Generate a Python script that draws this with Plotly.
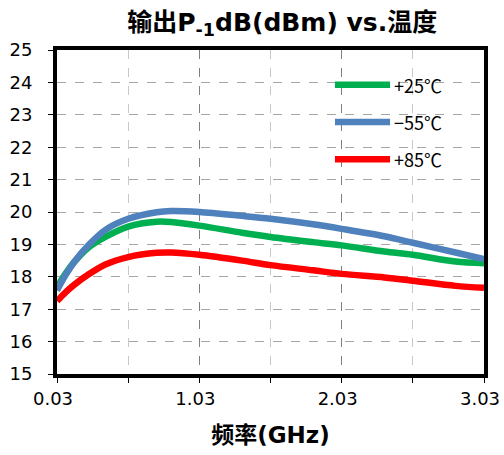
import plotly.graph_objects as go

# Frequency sweep (GHz) and output P-1dB (dBm) at three temperatures
freq = [0.03, 0.09, 0.15, 0.25, 0.37, 0.53, 0.73, 0.83, 1.03, 1.33, 1.53, 1.83, 2.03, 2.33, 2.53, 2.83, 3.03]
p1db_p25 = [17.68, 18.10, 18.45, 18.90, 19.23, 19.55, 19.70, 19.69, 19.58, 19.36, 19.23, 19.07, 18.97, 18.78, 18.68, 18.47, 18.42]
p1db_m55 = [17.58, 18.05, 18.45, 18.97, 19.45, 19.79, 19.99, 20.03, 20.00, 19.88, 19.79, 19.62, 19.48, 19.25, 19.05, 18.75, 18.55]
p1db_p85 = [17.25, 17.52, 17.75, 18.07, 18.38, 18.61, 18.74, 18.75, 18.68, 18.50, 18.36, 18.20, 18.09, 17.98, 17.88, 17.72, 17.66]

series_names = ["+25℃", "−55℃", "+85℃"]
series_colors = ["#00B050", "#4F81BD", "#FF0000"]
series_values = [p1db_p25, p1db_m55, p1db_p85]

x_ticks = [0.03, 1.03, 2.03, 3.03]
x_tick_text = ["0.03", "1.03", "2.03", "3.03"]

fig = go.Figure()
for name, color, vals in zip(series_names, series_colors, series_values):
    fig.add_trace(go.Scatter(
        x=freq, y=vals, name=name, mode="lines",
        line=dict(color=color, width=6.5, shape="spline", smoothing=0.9),
        showlegend=False, cliponaxis=True,
    ))

# Legend drawn inside the plot area: sample line + label per series
leg_y = [0.893, 0.778, 0.663]
for name, color, ly in zip(series_names, series_colors, leg_y):
    fig.add_shape(type="line", xref="paper", yref="paper",
                  x0=0.651, x1=0.78, y0=ly, y1=ly,
                  line=dict(color=color, width=6.5))
    fig.add_annotation(xref="paper", yref="paper", x=0.785, y=ly,
                       text=name, showarrow=False, xanchor="left", yanchor="middle",
                       font=dict(family="Noto Sans CJK JP", size=18, color="black"))

fig.update_layout(
    width=504, height=455,
    margin=dict(l=57, r=20, t=50, b=81),
    paper_bgcolor="white", plot_bgcolor="white",
    title=dict(text="<b>输出P<sub>-1</sub>dB(dBm) vs.温度</b>",
               x=0.56, xanchor="center", y=0.952, yanchor="middle",
               font=dict(family="DejaVu Sans, Noto Sans CJK SC", size=25, color="black")),
    font=dict(family="DejaVu Sans", color="black"),
)

fig.update_xaxes(
    automargin=False,
    range=[0.03, 3.03], tickvals=x_ticks, ticktext=x_tick_text,
    ticklabeloverflow="allow", ticklabelshift=-4,
    tickfont=dict(family="DejaVu Sans", size=18, color="black"),
    ticks="outside", ticklen=5, tickwidth=1, tickcolor="black",
    showline=True, linewidth=4, linecolor="black", mirror=True,
    showgrid=True, gridcolor="#7f7f7f", griddash="dash", gridwidth=1,
    minor=dict(dtick=0.5, tick0=0.03, showgrid=True, gridcolor="#c8c8c8",
               griddash="dash", ticks="outside", ticklen=5, tickcolor="black"),
    zeroline=False,
    title=dict(text="<b>频率(GHz)</b>", standoff=20,
               font=dict(family="DejaVu Sans, Noto Sans CJK SC", size=23, color="black")),
)
fig.update_yaxes(
    automargin=False,
    range=[15, 25], dtick=1, tick0=15,
    tickfont=dict(family="DejaVu Sans", size=18, color="black"),
    ticks="outside", ticklen=5, tickwidth=1, tickcolor="black",
    ticklabelstandoff=12,
    showline=True, linewidth=4, linecolor="black", mirror=True,
    showgrid=True, gridcolor="#a6a6a6", griddash="dash", gridwidth=1,
    zeroline=False,
)

fig.write_html("out.html")
